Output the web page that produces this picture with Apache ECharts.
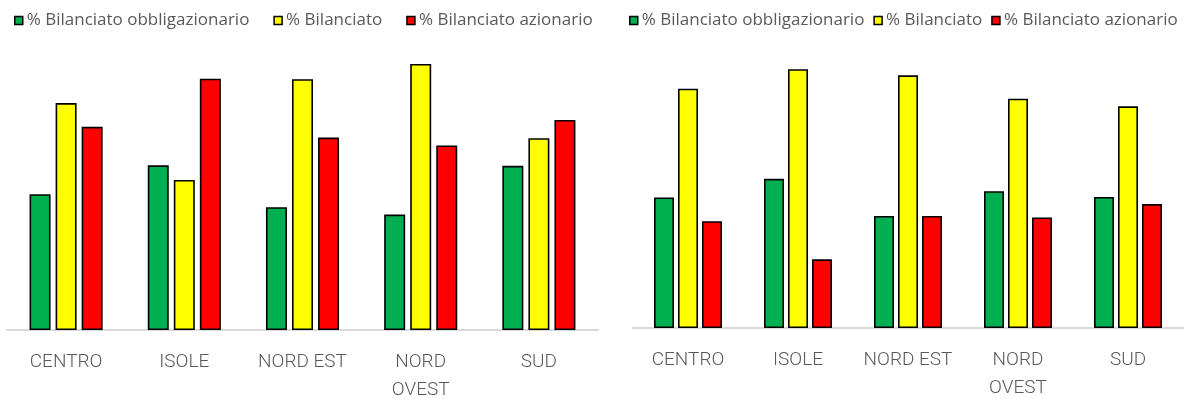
<!DOCTYPE html>
<html>
<head>
<meta charset="utf-8">
<script src="https://cdn.jsdelivr.net/npm/echarts@6/dist/echarts.min.js"></script>
<style>
  html, body { margin: 0; padding: 0; background: #ffffff; }
  #chart { width: 1185px; height: 399px; }
</style>
</head>
<body>
<div id="chart"></div>
<script>
// Regions on the category axis (both panels share them)
const categories = ['CENTRO', 'ISOLE', 'NORD EST', 'NORD\nOVEST', 'SUD'];
const seriesNames = ['% Bilanciato obbligazionario', '% Bilanciato', '% Bilanciato azionario'];

// Left panel shares (%)
const leftObbligazionario = [24.0, 29.1, 21.7, 20.4, 29.0];
const leftBilanciato      = [40.1, 26.5, 44.3, 47.0, 33.9];
const leftAzionario       = [35.9, 44.4, 34.0, 32.6, 37.1];

// Right panel shares (%)
const rightObbligazionario = [27.4, 31.3, 23.5, 28.7, 27.5];
const rightBilanciato      = [50.2, 54.3, 53.0, 48.1, 46.5];
const rightAzionario       = [22.4, 14.4, 23.5, 23.2, 26.0];

const colors = ['#00B050', '#FFFF00', '#FF0000'];
const textColor = '#595959';
const legendFont = '"Open Sans", "Noto Sans", sans-serif';
const labelFont = '"Roboto Light", "Open Sans Light", Roboto, "Open Sans", sans-serif';

function barSeries(name, data, color, idx, width, gap) {
  return {
    name: name,
    type: 'bar',
    xAxisIndex: idx,
    yAxisIndex: idx,
    data: data,
    barWidth: width,
    barGap: gap,
    itemStyle: { color: color, borderColor: '#000000', borderWidth: 1.6 },
    emphasis: { disabled: true }
  };
}

function legend(left, gap) {
  return {
    left: left,
    top: 12,
    width: 590,
    padding: 0,
    icon: 'rect',
    itemWidth: 8,
    itemHeight: 8,
    itemGap: gap,
    data: seriesNames,
    itemStyle: { borderColor: '#000000', borderWidth: 1.5 },
    textStyle: { color: textColor, fontSize: 17, fontFamily: legendFont, padding: [0, 0, 0, -1] },
    selectedMode: false
  };
}

function xAxis(idx) {
  return {
    type: 'category',
    gridIndex: idx,
    data: categories,
    axisLine: { lineStyle: { color: '#D9D9D9', width: 2 } },
    axisTick: { show: false },
    axisLabel: {
      color: textColor,
      fontSize: 19,
      fontWeight: 300,
      fontFamily: labelFont,
      margin: 17,
      lineHeight: 28,
      interval: 0
    }
  };
}

function yAxis(idx, max) {
  return {
    type: 'value',
    gridIndex: idx,
    min: 0,
    max: max,
    show: false,
    splitLine: { show: false }
  };
}

const chart = echarts.init(document.getElementById('chart'), null, { renderer: 'canvas' });
chart.setOption({
  animation: false,
  color: colors,
  legend: [legend(14, 24), legend(629, 9)],
  grid: [
    { left: 7, right: 587, top: 47, bottom: 69, outerBoundsMode: 'none' },
    { left: 633, right: 2, top: 42, bottom: 71, outerBoundsMode: 'none' }
  ],
  xAxis: [xAxis(0), xAxis(1)],
  yAxis: [yAxis(0, 50), yAxis(1, 60)],
  series: [
    barSeries(seriesNames[0], leftObbligazionario, colors[0], 0, 21, '24%'),
    barSeries(seriesNames[1], leftBilanciato, colors[1], 0, 21, '24%'),
    barSeries(seriesNames[2], leftAzionario, colors[2], 0, 21, '24%'),
    barSeries(seriesNames[0], rightObbligazionario, colors[0], 1, 20, '20%'),
    barSeries(seriesNames[1], rightBilanciato, colors[1], 1, 20, '20%'),
    barSeries(seriesNames[2], rightAzionario, colors[2], 1, 20, '20%')
  ]
});
</script>
</body>
</html>
